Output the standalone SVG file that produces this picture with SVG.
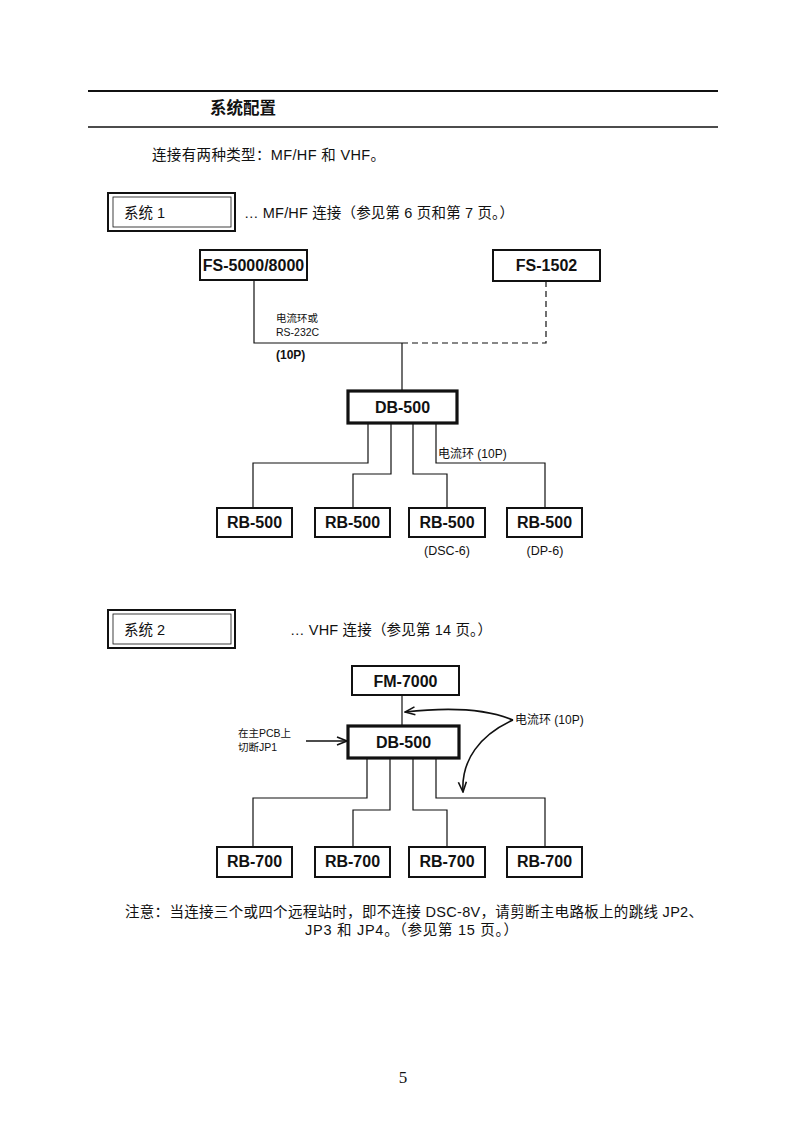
<svg xmlns="http://www.w3.org/2000/svg" width="793" height="1122" viewBox="0 0 793 1122">
<style>
.t{font-family:"Liberation Sans","Noto Sans CJK SC",sans-serif;fill:#111}
.b{font-family:"Liberation Sans","Noto Sans CJK SC",sans-serif;font-weight:bold;fill:#111;font-size:16px;text-anchor:middle}
.box{fill:#fff;stroke:#111;stroke-width:2}
.thick{fill:#fff;stroke:#111;stroke-width:3.2}
.ln{fill:none;stroke:#111;stroke-width:1.2}
.dash{fill:none;stroke:#111;stroke-width:1.2;stroke-dasharray:6,4}
.arr{fill:none;stroke:#111;stroke-width:1.6}
</style>
<defs>
<marker id="ah" viewBox="0 0 12 10" refX="11" refY="5" markerWidth="12" markerHeight="10" markerUnits="userSpaceOnUse" orient="auto">
<path d="M1,1 L11,5 L1,9" fill="none" stroke="#111" stroke-width="1.6"/>
</marker>
</defs>
<rect width="793" height="1122" fill="#fff"/>
<g id="header">
<line x1="88" y1="91" x2="718" y2="91" stroke="#111" stroke-width="2.2"/>
<text x="210" y="114" class="t" font-size="16.5" font-weight="bold">系统配置</text>
<line x1="88" y1="127" x2="718" y2="127" stroke="#111" stroke-width="1.4"/>
<text x="152" y="160" class="t" font-size="14.5" textLength="233" lengthAdjust="spacing">连接有两种类型：MF/HF 和 VHF。</text>
</g>
<g id="sys1-label">
<rect x="108" y="193" width="127" height="38" fill="#fff" stroke="#111" stroke-width="2"/>
<rect x="113" y="197" width="118" height="30" fill="none" stroke="#111" stroke-width="0.8"/>
<text x="124" y="218" class="t" font-size="14.5">系统 1</text>
<text x="244" y="218" class="t" font-size="14.5" textLength="270" lengthAdjust="spacing">… MF/HF 连接（参见第 6 页和第 7 页。）</text>
</g>
<g id="connectors">
<polyline class="ln" points="254,280 254,343 402,343"/>
<polyline class="dash" points="402,343 546,343 546,281"/>
<line class="ln" x1="402" y1="343" x2="402" y2="391"/>
<polyline class="ln" points="368,423 368,463 253,463 253,508"/>
<polyline class="ln" points="391,423 391,474 353,474 353,508"/>
<polyline class="ln" points="413,423 413,474 447,474 447,508"/>
<polyline class="ln" points="436,423 436,463 545,463 545,508"/>
<line class="ln" x1="402" y1="695" x2="402" y2="726"/>
<polyline class="ln" points="367,758 367,798 253,798 253,847"/>
<polyline class="ln" points="390,758 390,810 353,810 353,847"/>
<polyline class="ln" points="413,758 413,810 447,810 447,847"/>
<polyline class="ln" points="436,758 436,798 545,798 545,847"/>
<line class="arr" x1="306" y1="741" x2="347" y2="741" marker-end="url(#ah)"/>
<path class="arr" d="M513,720 Q475,704 405,712" marker-end="url(#ah)"/>
<path class="arr" d="M513,720 C480,735 461,760 463,792" marker-end="url(#ah)"/>
</g>
<g id="labels1">
<text x="276" y="322" class="t" font-size="10.5">电流环或</text>
<text x="276" y="336" class="t" font-size="10.5">RS-232C</text>
<text x="276" y="359" class="t" font-size="12" font-weight="bold">(10P)</text>
<text x="438" y="458" class="t" font-size="12">电流环 (10P)</text>
<text x="447" y="555" class="t" font-size="12.5" text-anchor="middle">(DSC-6)</text>
<text x="545" y="555" class="t" font-size="12.5" text-anchor="middle">(DP-6)</text>
</g>
<g id="fs5000"><rect class="box" x="200" y="250" width="107" height="30"/><text x="253.5" y="271" class="b">FS-5000/8000</text></g>
<g id="fs1502"><rect class="box" x="493" y="250" width="107" height="31"/><text x="546.5" y="271" class="b">FS-1502</text></g>
<g id="db500a"><rect class="thick" x="348" y="391" width="109" height="32"/><text x="402.5" y="413" class="b">DB-500</text></g>
<g id="rb500a"><rect class="box" x="217" y="508" width="75" height="29"/><text x="254.5" y="528" class="b">RB-500</text></g>
<g id="rb500b"><rect class="box" x="315" y="508" width="75" height="29"/><text x="352.5" y="528" class="b">RB-500</text></g>
<g id="rb500c"><rect class="box" x="409" y="508" width="76" height="29"/><text x="447" y="528" class="b">RB-500</text></g>
<g id="rb500d"><rect class="box" x="507" y="508" width="75" height="29"/><text x="544.5" y="528" class="b">RB-500</text></g>
<g id="sys2-label">
<rect x="108" y="610" width="127" height="38" fill="#fff" stroke="#111" stroke-width="2"/>
<rect x="113" y="614" width="118" height="30" fill="none" stroke="#111" stroke-width="0.8"/>
<text x="124" y="635" class="t" font-size="14.5">系统 2</text>
<text x="290" y="635" class="t" font-size="14.5" textLength="202" lengthAdjust="spacing">… VHF 连接（参见第 14 页。）</text>
</g>
<g id="labels2">
<text x="238" y="737" class="t" font-size="10.5">在主PCB上</text>
<text x="238" y="751" class="t" font-size="10.5">切断JP1</text>
<text x="515" y="724" class="t" font-size="12">电流环 (10P)</text>
</g>
<g id="fm7000"><rect class="box" x="352" y="666" width="107" height="29"/><text x="405.5" y="686.5" class="b">FM-7000</text></g>
<g id="db500b"><rect class="thick" x="348" y="726" width="111" height="32"/><text x="403.5" y="748" class="b">DB-500</text></g>
<g id="rb700a"><rect class="box" x="217" y="847" width="75" height="30"/><text x="254.5" y="867" class="b">RB-700</text></g>
<g id="rb700b"><rect class="box" x="315" y="847" width="75" height="30"/><text x="352.5" y="867" class="b">RB-700</text></g>
<g id="rb700c"><rect class="box" x="409" y="847" width="76" height="30"/><text x="447" y="867" class="b">RB-700</text></g>
<g id="rb700d"><rect class="box" x="507" y="847" width="75" height="30"/><text x="544.5" y="867" class="b">RB-700</text></g>
<g id="note">
<text x="125" y="917" class="t" font-size="14.5" textLength="578" lengthAdjust="spacing">注意：当连接三个或四个远程站时，即不连接 DSC-8V，请剪断主电路板上的跳线 JP2、</text>
<text x="305" y="935" class="t" font-size="14.5" textLength="213" lengthAdjust="spacing">JP3 和 JP4。（参见第 15 页。）</text>
</g>
<text x="403" y="1083" font-family="Liberation Serif,serif" font-size="17" text-anchor="middle" fill="#111">5</text>
</svg>
